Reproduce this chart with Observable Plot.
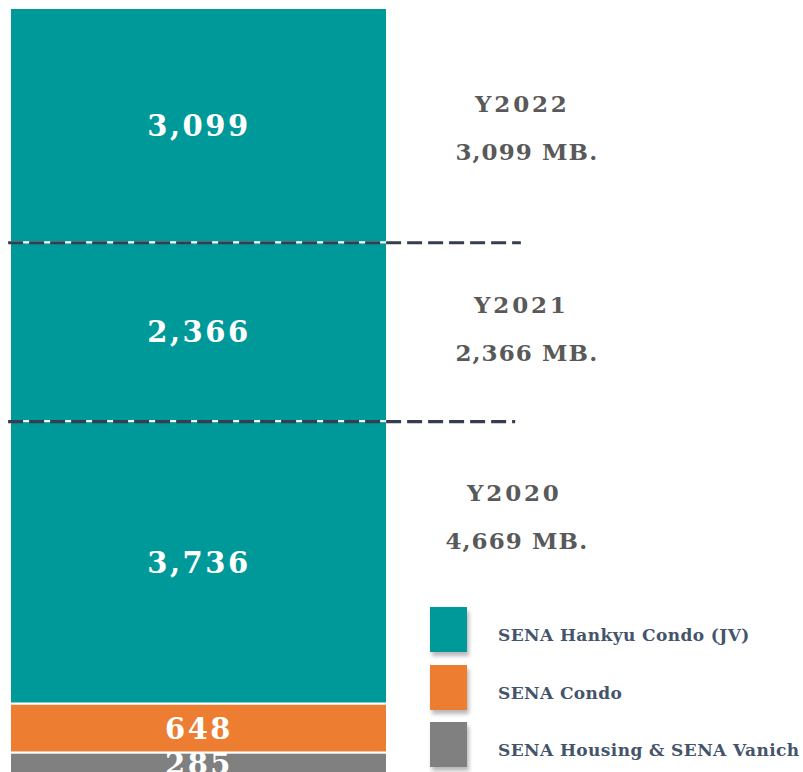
<!DOCTYPE html>
<html>
<head>
<meta charset="utf-8">
<script src="https://cdn.jsdelivr.net/npm/d3@7"></script>
<script src="https://cdn.jsdelivr.net/npm/@observablehq/plot@0.6"></script>
<style>
  html, body { margin: 0; padding: 0; background: #fff; }
  #wrap { position: relative; width: 803px; height: 772px; overflow: hidden; font-family: "DejaVu Serif", serif; }
  #legend { position: absolute; left: 430px; top: 607px; }
  .row { position: relative; height: 57.5px; }
  .sw { position: absolute; left: 0; top: 0; width: 37px; height: 45px; box-shadow: 2px 4px 4px rgba(0,0,0,0.28); }
  .lt { position: absolute; left: 68px; top: 18px; white-space: nowrap; font-weight: bold; font-size: 17px; color: #44546A; letter-spacing: 0.4px; }
</style>
</head>
<body>
<div id="wrap"></div>
<script>
// ---- data ----
const segmentGroups = ["SENA Housing & SENA Vanich", "SENA Condo", "SENA Hankyu Condo (JV)", "SENA Hankyu Condo (JV)", "SENA Hankyu Condo (JV)"];
const segmentYears  = [2020, 2020, 2020, 2021, 2022];
const segmentValues = [285, 648, 3736, 2366, 3099];
const segmentLabels = ["285", "648", "3,736", "2,366", "3,099"];

const years       = [2020, 2021, 2022];
const yearLabels  = ["Y2020", "Y2021", "Y2022"];
const yearTotals  = ["4,669 MB.", "2,366 MB.", "3,099 MB."];

const legendGroups = ["SENA Hankyu Condo (JV)", "SENA Condo", "SENA Housing & SENA Vanich"];
const legendColors = ["#009999", "#ED7D31", "#808080"];

// ---- derived table ----
let acc = 0;
const segs = segmentValues.map((v, i) => {
  const d = {group: segmentGroups[i], year: segmentYears[i], value: v, label: segmentLabels[i], y1: acc, y2: acc + v};
  acc += v;
  return d;
});
const total = acc;
const yearTop = years.map(yr => d3.max(segs.filter(s => s.year === yr), s => s.y2));
const yearMidTeal = years.map(yr => {
  const s = segs.filter(s => s.year === yr && s.group === "SENA Hankyu Condo (JV)")[0];
  return (s.y1 + s.y2) / 2;
});
const boundaries = yearTop.slice(0, -1);

const BAR_X1 = 0, BAR_X2 = 1, LABEL_X = 1.355, RULE_X1 = -0.005;
const ruleEnd = [1.34, 1.355];
const labelDy = [-45, -3, 3];
const yearDx = [-7, 0, 1];
const totalDx = [-4.5, 5.5, 5.5];

const font = "DejaVu Serif";
const marks = [
  Plot.rectY(segs, {x1: BAR_X1, x2: BAR_X2, y1: "y1", y2: "y2", fill: "group", stroke: "white", strokeWidth: 2}),
  Plot.ruleY(boundaries, {y: d => d, x1: RULE_X1, x2: (d, i) => ruleEnd[i], stroke: "#353E4F", strokeWidth: 3.2, strokeDasharray: "15,6"}),
  Plot.text(segs, {x: 0.5, y: d => (d.y1 + d.y2) / 2, text: "label", fill: "white", fontSize: 29, fontWeight: "bold", fontFamily: font, dx: 0, dy: 1}),
];
years.forEach((yr, i) => {
  marks.push(Plot.text([i], {x: LABEL_X, y: () => yearMidTeal[i], text: () => yearLabels[i], dy: labelDy[i] - 24, dx: yearDx[i], fill: "#595959", fontSize: 23, fontWeight: "bold", fontFamily: font}));
  marks.push(Plot.text([i], {x: LABEL_X, y: () => yearMidTeal[i], text: () => yearTotals[i], dy: labelDy[i] + 24, dx: totalDx[i], fill: "#595959", fontSize: 23, fontWeight: "bold", fontFamily: font}));
});

const chart = Plot.plot({
  width: 803,
  height: 772,
  marginTop: 8,
  marginBottom: -2,
  marginLeft: 0,
  marginRight: 0,
  x: {type: "linear", domain: [0, 1], range: [10, 387], axis: null},
  y: {domain: [0, total], axis: null},
  color: {domain: legendGroups, range: legendColors},
  style: {background: "transparent", overflow: "visible"},
  marks
});
// letter spacing per text layer (in mark order): value labels, then year label / total pairs
const textLayers = chart.querySelectorAll('g[aria-label="text"]');
const spacing = [2.5, 2.8, 1.1, 2.8, 1.1, 2.8, 1.1];
textLayers.forEach((g, i) => g.setAttribute("letter-spacing", spacing[i] ?? 0));

const wrap = document.getElementById("wrap");
wrap.appendChild(chart);

const legend = document.createElement("div");
legend.id = "legend";
legendGroups.forEach((g, i) => {
  const row = document.createElement("div");
  row.className = "row";
  const sw = document.createElement("div");
  sw.className = "sw";
  sw.style.background = legendColors[i];
  const lt = document.createElement("div");
  lt.className = "lt";
  lt.textContent = g;
  row.appendChild(sw); row.appendChild(lt);
  legend.appendChild(row);
});
wrap.appendChild(legend);
</script>
</body>
</html>
